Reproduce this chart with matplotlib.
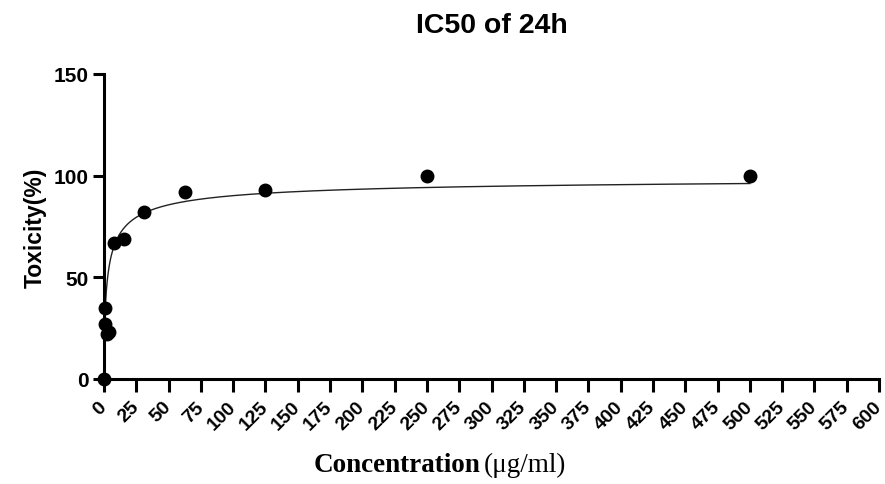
import numpy as np
import matplotlib
matplotlib.use("Agg")
import matplotlib.pyplot as plt

# Data
conc = [0, 0.49, 0.98, 1.95, 3.9, 7.8, 15.6, 31.25, 62.5, 125, 250, 500]
toxicity = [0, 35, 27, 22, 23, 67, 69, 82, 92, 93, 100, 100]

# Fitted curve parameters (Hill equation)
fit_top = 100.0
fit_ic50 = 2.8
fit_hill = 0.62

x_ticks = list(range(0, 601, 25))
y_ticks = [0, 50, 100, 150]

plt.rcParams['font.family'] = ['Liberation Sans', 'DejaVu Sans']

fig = plt.figure(figsize=(8.85, 4.85), dpi=100)
ax = fig.add_axes([104/885, 1-380/485, (879-104)/885, (380-75)/485])

xc = np.concatenate([np.linspace(0, 5, 400), np.linspace(5, 500, 800)])
yc = fit_top * xc**fit_hill / (fit_ic50**fit_hill + xc**fit_hill)
ax.plot(xc, yc, color='#222222', lw=1.0, clip_on=False, zorder=2)
ax.plot(conc, toxicity, 'o', color='black', ms=9, clip_on=False, zorder=3)

ax.set_xlim(0, 600)
ax.set_ylim(0, 150)
ax.set_xticks(x_ticks)
ax.set_yticks(y_ticks)
ax.set_xticklabels([str(v) for v in x_ticks], rotation=45, ha='right',
                   rotation_mode='anchor', fontsize=14, fontweight='bold')
ax.set_yticklabels([str(v) for v in y_ticks], fontsize=15, fontweight='bold')
for lab in ax.get_xticklabels():
    lab.set_va('center')
ax.tick_params(axis='x', direction='out', length=9, width=2.2, pad=9)
ax.tick_params(axis='y', direction='out', length=8, width=2.2, pad=3)
for s in ['top', 'right']:
    ax.spines[s].set_visible(False)
for s in ['left', 'bottom']:
    ax.spines[s].set_linewidth(2.2)

ax.set_ylabel('Toxicity(%)', fontsize=16.5, fontweight='bold', labelpad=5)
ax.set_title('IC50 of 24h', fontsize=20.5, fontweight='bold', pad=30)

fig.text(0.543, 0.04, 'Concentration', family='Liberation Serif', fontweight='bold',
         fontsize=19.5, ha='right', va='center')
fig.text(0.547, 0.04, '(\u03bcg/ml)', family='Liberation Serif',
         fontsize=19.5, ha='left', va='center')

fig.savefig('out.png', dpi=100)
